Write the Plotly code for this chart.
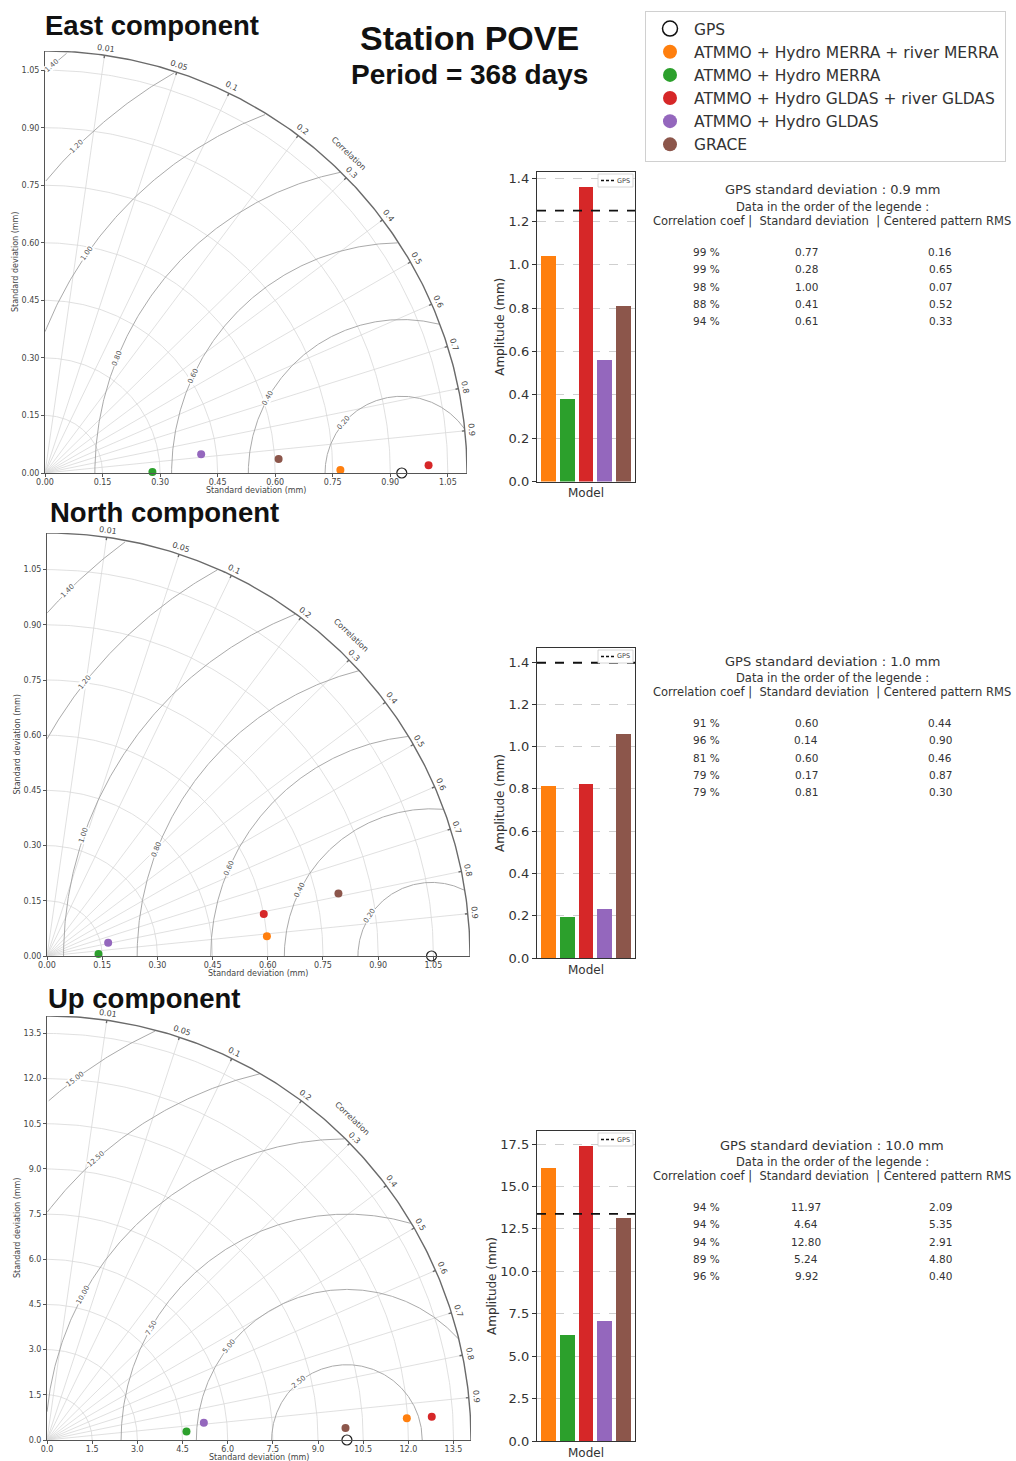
import numpy as np
import plotly.graph_objects as go

W, H = 1016, 1461

# ---------------- data ----------------
model_names = [
    "ATMMO + Hydro MERRA + river MERRA",
    "ATMMO + Hydro MERRA",
    "ATMMO + Hydro GLDAS + river GLDAS",
    "ATMMO + Hydro GLDAS",
    "GRACE",
]
model_colors = ["#ff7f0e", "#2ca02c", "#d62728", "#9467bd", "#8c564b"]

corr_ticks = [0.01, 0.05, 0.1, 0.2, 0.3, 0.4, 0.5, 0.6, 0.7, 0.8, 0.9]
corr_tick_labels = ["0.01", "0.05", "0.1", "0.2", "0.3", "0.4", "0.5", "0.6", "0.7", "0.8", "0.9"]

east_corr_pct = [99, 99, 98, 88, 94]
east_std = [0.77, 0.28, 1.00, 0.41, 0.61]
east_crms = [0.16, 0.65, 0.07, 0.52, 0.33]
east_gps_std = 0.93
east_amp = [1.04, 0.38, 1.36, 0.56, 0.81]
east_gps_amp = 1.25
east_rms_levels = [0.2, 0.4, 0.6, 0.8, 1.0, 1.2, 1.4]

north_corr_pct = [91, 96, 81, 79, 79]
north_std = [0.60, 0.14, 0.60, 0.17, 0.81]
north_crms = [0.44, 0.90, 0.46, 0.87, 0.30]
north_gps_std = 1.045
north_amp = [0.815, 0.195, 0.825, 0.233, 1.06]
north_gps_amp = 1.397
north_rms_levels = [0.2, 0.4, 0.6, 0.8, 1.0, 1.2, 1.4]

up_corr_pct = [94, 94, 94, 89, 96]
up_std = [11.97, 4.64, 12.80, 5.24, 9.92]
up_crms = [2.09, 5.35, 2.91, 4.80, 0.40]
up_gps_std = 9.96
up_amp = [16.09, 6.26, 17.40, 7.10, 13.16]
up_gps_amp = 13.38
up_rms_levels = [2.5, 5.0, 7.5, 10.0, 12.5, 15.0]

# ---------------- layout helpers ----------------
def dx(x0, x1):
    return [x0 / W, x1 / W]


def dy(y0, y1):
    return [1 - y1 / H, 1 - y0 / H]


def px(x):
    return x / W


def py(y):
    return 1 - y / H


comps = [
    dict(title="East component", title_xy=(43, 25), corr=east_corr_pct, std=east_std, crms=east_crms,
         gps_std=east_gps_std, amp=east_amp, gps_amp=east_gps_amp, levels=east_rms_levels,
         step=0.15, fmt=".2f", lvl_fmt="{:.2f}", tbox=(45, 51, 467, 473),
         bbox=(537, 172, 635, 481.6), bstep=0.2, bfmt=".1f", text_y=190, amp_off=37),
    dict(title="North component", title_xy=(48, 513), corr=north_corr_pct, std=north_std, crms=north_crms,
         gps_std=north_gps_std, amp=north_amp, gps_amp=north_gps_amp, levels=north_rms_levels,
         step=0.15, fmt=".2f", lvl_fmt="{:.2f}", tbox=(47, 533, 470, 956),
         bbox=(537, 648, 635, 958), bstep=0.2, bfmt=".1f", text_y=661, amp_off=37),
    dict(title="Up component", title_xy=(46, 998), corr=up_corr_pct, std=up_std, crms=up_crms,
         gps_std=up_gps_std, amp=up_amp, gps_amp=up_gps_amp, levels=up_rms_levels,
         step=1.5, fmt=".1f", lvl_fmt="{:.2f}", tbox=(47, 1016, 471, 1440),
         bbox=(537, 1131, 635, 1441), bstep=2.5, bfmt=".1f", text_y=1145, amp_off=45),
]

fig = go.Figure()
annotations = []
shapes = []
layout_axes = {}

GRID = "#d8d8d8"
RMSC = "#a0a0a0"
DARK = "#555555"
FONT = "DejaVu Sans"


def paper_ann(xp, yp, text, size, color="#444", angle=0, bg=None, xanchor="center", family=FONT):
    d = dict(x=px(xp), y=py(yp), xref="paper", yref="paper", text=text, showarrow=False,
             textangle=angle, xanchor=xanchor, yanchor="middle",
             font=dict(size=size, color=color, family=family))
    if bg:
        d.update(bgcolor=bg, borderpad=0)
    annotations.append(d)


for i, c in enumerate(comps):
    tn = i + 1          # taylor axis number
    bn = i + 4          # bar axis number
    xa, ya = f"x{tn}", f"y{tn}"
    xb, yb = f"x{bn}", f"y{bn}"
    ref = c["gps_std"]
    R = 1.1 * max(max(c["std"]), ref)
    x0, y0, x1, y1 = c["tbox"]
    scale = (x1 - x0) / R  # px per data unit

    def tpx(x, y):
        return x0 + x * scale, y1 - y * scale

    th = np.linspace(0, np.pi / 2, 200)

    # std arcs
    ticks = np.arange(0, R + 1e-9, c["step"])
    gx, gy = [], []
    for t in ticks[1:]:
        gx += list(t * np.cos(th)) + [None]
        gy += list(t * np.sin(th)) + [None]
    # correlation grid lines
    for cv in corr_ticks:
        a = np.arcsin(1 - cv)
        gx += [0, R * np.cos(a), None]
        gy += [0, R * np.sin(a), None]
    fig.add_trace(go.Scatter(x=gx, y=gy, mode="lines", line=dict(color=GRID, width=0.8),
                             xaxis=xa, yaxis=ya, showlegend=False, hoverinfo="skip"))

    # centered RMS contours
    phi = np.linspace(0, np.pi, 600)
    rx, ry = [], []
    for r in c["levels"]:
        xx = ref + r * np.cos(phi)
        yy = r * np.sin(phi)
        ok = (xx >= 0) & (xx ** 2 + yy ** 2 <= R ** 2)
        rx += [float(v) if k else None for v, k in zip(xx, ok)] + [None]
        ry += [float(v) if k else None for v, k in zip(yy, ok)] + [None]
        # label position along visible arc
        hi = np.pi if ref - r >= 0 else np.arccos(-ref / r)
        if ref + r <= R:
            lo = 0.0
        else:
            xm = (R ** 2 + ref ** 2 - r ** 2) / (2 * ref)
            q = (xm - ref) / r
            if q < -1 or q > 1:
                continue
            lo = np.arccos(q)
        if lo >= hi:
            continue
        f = lo + 0.72 * (hi - lo)
        deg = np.degrees(f)
        lx, ly = tpx(ref + r * np.cos(f), r * np.sin(f))
        paper_ann(lx, ly, c["lvl_fmt"].format(r), 7, "#555", -(deg - 90), bg="white")
    fig.add_trace(go.Scatter(x=rx, y=ry, mode="lines", line=dict(color=RMSC, width=0.9),
                             xaxis=xa, yaxis=ya, showlegend=False, hoverinfo="skip",
                             connectgaps=False))

    # outer arc and correlation tick marks
    ox = list(R * np.cos(th)) + [None]
    oy = list(R * np.sin(th)) + [None]
    for cv in corr_ticks:
        a = np.arcsin(1 - cv)
        ox += [R * np.cos(a), (R - 3 / scale) * np.cos(a), None]
        oy += [R * np.sin(a), (R - 3 / scale) * np.sin(a), None]
    fig.add_trace(go.Scatter(x=ox, y=oy, mode="lines", line=dict(color="#6a6a6a", width=1.4),
                             xaxis=xa, yaxis=ya, showlegend=False, hoverinfo="skip", cliponaxis=False))

    # correlation tick labels
    for cv, lab in zip(corr_ticks, corr_tick_labels):
        a = np.arcsin(1 - cv)
        rr = R + 7 / scale
        lx, ly = tpx(rr * np.cos(a), rr * np.sin(a))
        paper_ann(lx, ly, lab, 8, "#444", 90 - np.degrees(a))
    a = np.radians(46.5)
    rr = R + 19 / scale
    lx, ly = tpx(rr * np.cos(a), rr * np.sin(a))
    paper_ann(lx, ly, "Correlation", 8, "#444", 90 - 46.5)

    # model points
    ang = np.arcsin(1 - np.array(c["corr"]) / 100.0)
    sx = np.array(c["std"]) * np.cos(ang)
    sy = np.array(c["std"]) * np.sin(ang)
    fig.add_trace(go.Scatter(x=sx, y=sy, mode="markers",
                             marker=dict(size=8, color=model_colors, line=dict(width=0)),
                             xaxis=xa, yaxis=ya, showlegend=False, cliponaxis=False,
                             hovertext=model_names))
    fig.add_trace(go.Scatter(x=[ref], y=[0], mode="markers",
                             marker=dict(size=10, symbol="circle-open", color="#222", line=dict(width=1.2)),
                             xaxis=xa, yaxis=ya, showlegend=False, cliponaxis=False, hovertext=["GPS"]))

    common_t = dict(range=[0, R], tickvals=list(ticks), tickformat=c["fmt"], ticks="outside", ticklen=3,
                    tickcolor=DARK, showline=True, linecolor=DARK, linewidth=1, showgrid=False,
                    zeroline=False, automargin=False, tickfont=dict(size=8, color="#444", family=FONT))
    layout_axes[f"xaxis{tn}"] = dict(domain=dx(x0, x1), anchor=ya, ticklabelstandoff=-2, **common_t)
    layout_axes[f"yaxis{tn}"] = dict(domain=dy(y0, y1), anchor=xa, **common_t)
    paper_ann((x0 + x1) / 2, y1 + 17, "Standard deviation (mm)", 8, "#444")
    paper_ann(x0 - 30, (y0 + y1) / 2, "Standard deviation (mm)", 8, "#444", -90)

    # ---------------- bar chart ----------------
    bx0, by0, bx1, by1 = c["bbox"]
    pos = list(range(len(c["amp"])))
    xr = [-0.64, len(pos) - 1 + 0.64]
    fig.add_trace(go.Bar(x=pos, y=c["amp"], marker=dict(color=model_colors, line=dict(width=0)),
                         width=0.8, xaxis=xb, yaxis=yb, showlegend=False, hovertext=model_names))
    fig.add_trace(go.Scatter(x=xr, y=[c["gps_amp"], c["gps_amp"]], mode="lines",
                             line=dict(color="#111", width=1.8, dash="dash"), name="GPS",
                             xaxis=xb, yaxis=yb, showlegend=False))
    top = 1.05 * max(max(c["amp"]), c["gps_amp"])
    layout_axes[f"xaxis{bn}"] = dict(domain=dx(bx0, bx1), anchor=yb, range=xr, tickvals=[2],
                                     ticktext=["Model"], ticks="", showline=True, mirror=True,
                                     linecolor="#333", linewidth=1.3, showgrid=False, zeroline=False,
                                     automargin=False, tickfont=dict(size=12, color="#333", family=FONT))
    layout_axes[f"yaxis{bn}"] = dict(domain=dy(by0, by1), anchor=xb, range=[0, top],
                                     tickvals=list(np.arange(0, top, c["bstep"])), tickformat=c["bfmt"],
                                     ticks="outside", ticklen=4, tickcolor="#333", showline=True,
                                     mirror=True, linecolor="#333", linewidth=1.3, showgrid=True,
                                     gridcolor="#cfcfcf", griddash="dash", gridwidth=0.8, zeroline=False,
                                     automargin=False, tickfont=dict(size=13, color="#333", family=FONT))
    paper_ann(bx0 - c["amp_off"], (by0 + by1) / 2, "Amplitude (mm)", 12, "#333", -90)
    # small legend box for the GPS dashed line
    shapes.append(dict(type="rect", xref="paper", yref="paper", x0=px(bx1 - 37), x1=px(bx1 - 2),
                       y0=py(by0 + 15), y1=py(by0 + 2), line=dict(color="#cccccc", width=0.8),
                       fillcolor="white", layer="above"))
    shapes.append(dict(type="line", xref="paper", yref="paper", x0=px(bx1 - 34), x1=px(bx1 - 21),
                       y0=py(by0 + 8.5), y1=py(by0 + 8.5), line=dict(color="#111", width=1.5, dash="3px,2px"),
                       layer="above"))
    paper_ann(bx1 - 12, by0 + 8.5, "GPS", 6.5, "#444")

    # ---------------- titles and text table ----------------
    tx, ty = c["title_xy"]
    paper_ann(tx, ty, "<b>" + c["title"] + "</b>", 27.5, "#111", xanchor="left", family="Liberation Sans")
    t0 = c["text_y"]
    paper_ann(832, t0, f"GPS standard deviation : {ref:.1f} mm", 13, "#333")
    paper_ann(832, t0 + 17, "Data in the order of the legende :", 11.5, "#333")
    paper_ann(832, t0 + 31, "Correlation coef |\u00a0 Standard deviation \u00a0| Centered pattern RMS", 11.5, "#333")
    for k, (cc, ss, rm) in enumerate(zip(c["corr"], c["std"], c["crms"])):
        yy = t0 + 62 + 17.3 * k
        for xc, txt in ((706, f"{cc} %"), (806, f"{ss:.2f}"), (940, f"{rm:.2f}")):
            paper_ann(xc, yy, txt, 10.5, "#333")

# main legend entries (legend-only traces)
fig.add_trace(go.Scatter(x=[None], y=[None], mode="markers", name="GPS",
                         marker=dict(size=15, symbol="circle-open", color="#111", line=dict(width=1.5)),
                         xaxis="x1", yaxis="y1"))
for nm, col in zip(model_names, model_colors):
    fig.add_trace(go.Scatter(x=[None], y=[None], mode="markers", name=nm,
                             marker=dict(size=14, color=col), xaxis="x1", yaxis="y1"))

paper_ann(469, 38, "<b>Station POVE</b>", 34, "#111", family="Liberation Sans")
paper_ann(469, 74, "<b>Period = 368 days</b>", 28, "#111", family="Liberation Sans")

fig.update_layout(
    width=W, height=H, autosize=False, margin=dict(l=0, r=0, t=0, b=0),
    paper_bgcolor="white", plot_bgcolor="white", template="none", bargap=0,
    font=dict(family=FONT, color="#333"),
    annotations=annotations, shapes=shapes,
    legend=dict(x=px(645), y=py(11), xanchor="left", yanchor="top", bgcolor="white",
                bordercolor="#d0d0d0", borderwidth=1, itemwidth=38,
                font=dict(size=15.5, color="#333", family=FONT)),
    **layout_axes,
)

fig.write_html("out.html", config={"displayModeBar": False},
               post_script=["document.body.style.margin='0px';"])
